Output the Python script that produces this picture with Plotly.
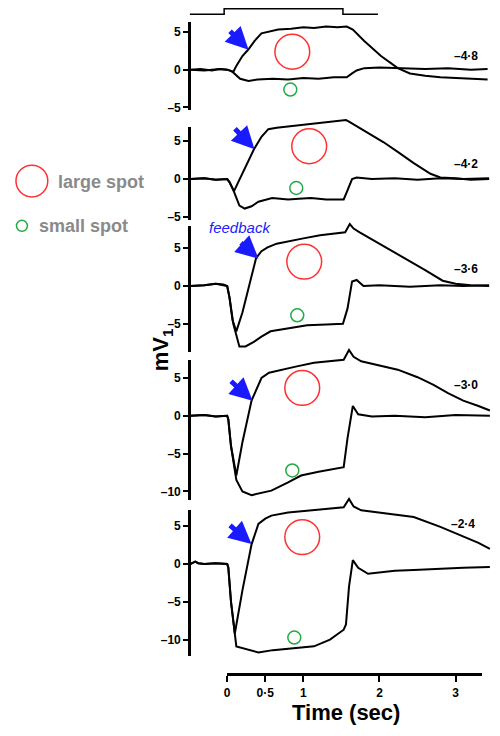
import plotly.graph_objects as go

# ---------------- data (mV vs seconds) ----------------
panel_labels = ["–4·8", "–4·2", "–3·6", "–3·0", "–2·4"]

t_large_48 = [-0.48, -0.35, -0.2, -0.1, 0.0, 0.04, 0.08, 0.12, 0.2, 0.28, 0.36, 0.45, 0.55, 0.67, 0.84, 1.0, 1.14, 1.3, 1.45, 1.57, 1.65, 1.8, 2.02, 2.24, 2.4, 2.6, 2.8, 3.0, 3.2, 3.42]
v_large_48 = [0.0, 0.1, -0.1, 0.1, 0.0, -0.2, -0.3, 0.5, 1.8, 2.7, 3.8, 4.8, 5.0, 5.3, 5.4, 5.6, 5.5, 5.7, 5.6, 5.7, 5.3, 3.8, 1.8, 0.2, -0.5, -0.8, -1.0, -1.1, -1.2, -1.3]
t_small_48 = [-0.48, -0.3, -0.1, 0.0, 0.06, 0.12, 0.17, 0.28, 0.4, 0.6, 0.8, 1.0, 1.2, 1.4, 1.57, 1.64, 1.7, 1.8, 2.0, 2.3, 2.6, 2.9, 3.2, 3.42]
v_small_48 = [0.0, -0.1, 0.1, 0.0, -0.2, -0.8, -1.2, -1.5, -1.3, -1.2, -1.3, -1.1, -1.2, -1.0, -1.0, -0.5, -0.1, 0.2, 0.3, 0.2, 0.1, 0.2, 0.0, 0.1]

t_large_42 = [-0.48, -0.3, -0.15, 0.0, 0.03, 0.09, 0.15, 0.25, 0.35, 0.45, 0.54, 0.65, 0.84, 1.0, 1.14, 1.3, 1.45, 1.56, 1.6, 1.84, 2.05, 2.24, 2.45, 2.67, 2.8, 3.0, 3.2, 3.44]
v_large_42 = [0.0, 0.1, -0.1, 0.0, -0.4, -1.6, -0.3, 1.9, 3.9, 5.6, 6.6, 6.8, 7.0, 7.2, 7.4, 7.5, 7.7, 7.8, 7.6, 6.2, 4.9, 3.6, 2.1, 0.7, 0.2, 0.1, -0.1, 0.0]
t_small_42 = [-0.48, -0.3, -0.15, 0.0, 0.03, 0.09, 0.16, 0.23, 0.32, 0.41, 0.59, 0.8, 0.94, 1.1, 1.3, 1.53, 1.58, 1.64, 1.7, 1.9, 2.2, 2.5, 2.8, 3.1, 3.44]
v_small_42 = [0.0, 0.1, -0.1, 0.0, -0.4, -1.7, -3.5, -3.9, -3.6, -3.0, -2.5, -2.7, -2.6, -2.5, -2.7, -2.7, -1.5, 0.0, 0.2, 0.0, 0.1, -0.1, 0.1, 0.0, 0.1]

t_large_36 = [-0.48, -0.3, -0.15, -0.05, 0.0, 0.03, 0.07, 0.12, 0.2, 0.3, 0.38, 0.45, 0.53, 0.65, 0.83, 1.0, 1.22, 1.4, 1.55, 1.61, 1.66, 1.74, 2.0, 2.2, 2.4, 2.6, 2.83, 3.0, 3.2, 3.44]
v_large_36 = [0.0, 0.1, 0.3, 0.2, 0.0, -1.5, -4.5, -6.0, -3.5, 0.5, 3.7, 4.6, 5.1, 5.6, 6.0, 6.3, 6.7, 6.9, 7.1, 8.2, 7.6, 7.1, 5.6, 4.5, 3.3, 2.1, 0.7, 0.3, 0.1, 0.0]
t_small_36 = [-0.48, -0.3, -0.15, 0.0, 0.03, 0.08, 0.16, 0.24, 0.35, 0.45, 0.57, 0.8, 1.05, 1.3, 1.52, 1.58, 1.64, 1.7, 1.79, 2.0, 2.4, 2.8, 3.1, 3.44]
v_small_36 = [0.0, 0.1, 0.3, 0.0, -1.5, -5.0, -8.0, -8.0, -7.4, -6.7, -6.0, -5.6, -5.2, -5.1, -5.0, -3.0, 0.6, 0.8, 0.0, 0.1, -0.1, 0.1, 0.0, 0.1]

t_large_30 = [-0.48, -0.3, -0.15, 0.0, 0.015, 0.05, 0.12, 0.2, 0.32, 0.45, 0.55, 0.67, 0.9, 1.14, 1.35, 1.53, 1.6, 1.66, 1.76, 2.0, 2.24, 2.5, 2.71, 2.9, 3.1, 3.3, 3.45]
v_large_30 = [0.0, 0.1, -0.1, 0.0, -0.5, -4.0, -7.9, -3.5, 2.0, 5.0, 5.7, 6.0, 6.5, 7.0, 7.2, 7.4, 8.7, 7.8, 7.2, 6.7, 6.1, 5.1, 4.1, 3.0, 2.0, 1.3, 0.7]
t_small_30 = [-0.48, -0.3, -0.15, 0.0, 0.015, 0.05, 0.12, 0.2, 0.32, 0.45, 0.58, 0.8, 0.97, 1.2, 1.4, 1.53, 1.58, 1.65, 1.72, 1.9, 2.2, 2.6, 3.0, 3.45]
v_small_30 = [0.0, 0.1, -0.1, 0.0, -0.5, -4.0, -8.5, -10.0, -10.5, -10.2, -9.9, -8.8, -7.9, -7.4, -7.0, -6.8, -3.0, 1.3, 0.2, -0.1, 0.0, -0.2, 0.1, 0.0]

t_large_24 = [-0.48, -0.42, -0.38, -0.3, -0.15, 0.0, 0.015, 0.05, 0.1, 0.2, 0.32, 0.41, 0.5, 0.58, 0.8, 1.14, 1.35, 1.53, 1.6, 1.66, 1.76, 2.0, 2.45, 2.8, 3.1, 3.3, 3.45]
v_large_24 = [0.0, 0.3, 0.1, 0.0, 0.1, 0.0, -0.5, -5.0, -9.2, -3.5, 2.6, 5.3, 6.0, 6.4, 6.8, 7.1, 7.3, 7.5, 8.6, 7.6, 7.1, 6.8, 6.2, 4.9, 3.6, 2.8, 2.0]
t_small_24 = [-0.48, -0.42, -0.38, -0.3, -0.15, 0.0, 0.015, 0.05, 0.12, 0.28, 0.41, 0.6, 0.9, 1.14, 1.35, 1.53, 1.56, 1.6, 1.65, 1.72, 1.85, 2.2, 2.45, 2.8, 3.1, 3.45]
v_small_24 = [0.0, 0.3, 0.1, 0.0, 0.1, 0.0, -0.5, -5.0, -10.9, -11.3, -11.7, -11.4, -11.1, -10.9, -10.0, -8.7, -8.0, -3.0, 0.5, -0.5, -1.3, -0.9, -0.8, -0.6, -0.5, -0.4]

t_stimulus = [-0.49, -0.04, -0.04, 1.52, 1.52, 1.98]
v_stimulus = [0, 0, 1, 1, 0, 0]

y_tickvals = [[5, 0, -5], [5, 0, -5], [5, 0, -5], [5, 0, -5, -10], [5, 0, -5, -10]]
x_tickvals = [0, 0.5, 1, 2, 3]
x_ticktext = ["0", "0·5", "1", "2", "3"]

# ---------------- layout geometry (pixels in the reference picture) ----------------
W, H = 500, 736
OFF = 8                      # page body margin of the html page
PX_PER_MV = 7.6
T0_PX, PX_PER_S = 225.5, 76.6
YAXIS_PX = 187
zero_px = [70, 180, 287.5, 418, 567]
axis_top_px = [22, 128, 227, 362, 513]
axis_bot_px = [111, 221, 354, 503, 660]


def fx(px):
    return min(1.0, max(0.0, (px - OFF) / W))


def fy(py):
    return min(1.0, max(0.0, 1 - (py - OFF) / H))


panels = [
    (t_large_48, v_large_48, t_small_48, v_small_48),
    (t_large_42, v_large_42, t_small_42, v_small_42),
    (t_large_36, v_large_36, t_small_36, v_small_36),
    (t_large_30, v_large_30, t_small_30, v_small_30),
    (t_large_24, v_large_24, t_small_24, v_small_24),
]

fig = go.Figure()
line = dict(color="black", width=2)
for k, (tl, vl, ts, vs) in enumerate(panels):
    ya = "y" if k == 0 else f"y{k+1}"
    fig.add_trace(go.Scatter(x=tl, y=vl, mode="lines", line=line, xaxis="x", yaxis=ya,
                             name=f"large spot {panel_labels[k]}", showlegend=False, hoverinfo="skip"))
    fig.add_trace(go.Scatter(x=ts, y=vs, mode="lines", line=line, xaxis="x", yaxis=ya,
                             name=f"small spot {panel_labels[k]}", showlegend=False, hoverinfo="skip"))
    fig.add_trace(go.Scatter(x=[], y=[], xaxis="x", yaxis=f"y{k+6}", showlegend=False, hoverinfo="skip"))

fig.add_trace(go.Scatter(x=t_stimulus, y=v_stimulus, mode="lines", line=dict(color="black", width=1.5),
                         xaxis="x", yaxis="y11", showlegend=False, hoverinfo="skip"))
fig.add_trace(go.Scatter(x=[], y=[], xaxis="x2", yaxis="y", showlegend=False, hoverinfo="skip"))

FAM = "Liberation Sans, Arial, sans-serif"
bold = dict(family=FAM, size=12, color="black", weight="bold")

layout = dict(
    width=W, height=H, margin=dict(l=0, r=0, t=0, b=0),
    paper_bgcolor="white", plot_bgcolor="rgba(0,0,0,0)",
    showlegend=False,
    xaxis=dict(domain=[0, 1], range=[(OFF - T0_PX) / PX_PER_S, (W + OFF - T0_PX) / PX_PER_S], visible=False),
    xaxis2=dict(domain=[fx(225), fx(482)], range=[(225 - T0_PX) / PX_PER_S, (482 - T0_PX) / PX_PER_S],
                anchor="free", position=fy(678), showline=True, linewidth=2.5, linecolor="black",
                ticks="outside", ticklen=6, tickwidth=2, tickcolor="black",
                tickvals=x_tickvals, ticktext=x_ticktext, tickfont=bold, showgrid=False, zeroline=False),
    yaxis11=dict(domain=[fy(15.5), 1.0], range=[-0.25, 1.15], visible=False, anchor="x"),
)
for k in range(5):
    z = zero_px[k]
    key = "yaxis" if k == 0 else f"yaxis{k+1}"
    d = dict(domain=[0, 1], range=[(z - (H + OFF)) / PX_PER_MV, (z - OFF) / PX_PER_MV], visible=False)
    if k > 0:
        d["overlaying"] = "y"
    layout[key] = d
    top, bot = axis_top_px[k], axis_bot_px[k]
    layout[f"yaxis{k+6}"] = dict(
        domain=[fy(bot), fy(top)], range=[(z - bot) / PX_PER_MV, (z - top) / PX_PER_MV],
        anchor="free", position=fx(YAXIS_PX), showline=True, linewidth=2.5, linecolor="black",
        ticks="outside", ticklen=5, tickwidth=2, tickcolor="black",
        tickvals=y_tickvals[k], ticktext=[("–" + str(-v)) if v < 0 else str(v) for v in y_tickvals[k]],
        tickfont=bold, showgrid=False, zeroline=False)
fig.update_layout(**layout)

# ---------------- decorations ----------------
shapes = []


def circle(cx, cy, r, color):
    shapes.append(dict(type="circle", xref="paper", yref="paper",
                       x0=fx(cx - r), x1=fx(cx + r), y0=fy(cy + r), y1=fy(cy - r),
                       line=dict(color=color, width=1.5)))


RED, GREEN = "#ff3030", "#22aa44"
red_centers = [(291, 52), (308, 147), (303, 263), (301, 390), (301, 540)]
green_centers = [(289, 90), (295, 189), (296, 317), (291, 473), (293, 641)]
for c in red_centers:
    circle(c[0], c[1], 17.5, RED)
for c in green_centers:
    circle(c[0], c[1], 6.5, GREEN)
circle(29, 182, 16, RED)
circle(19, 227, 5.5, GREEN)

# cut-off scale bar at the right edge
for x0, y0, x1, y1 in [(496, 47, 496, 61), (496, 66, 496, 77), (496, 77, 501, 77)]:
    shapes.append(dict(type="line", xref="paper", yref="paper", x0=fx(x0), x1=fx(x1), y0=fy(y0), y1=fy(y1),
                       line=dict(color="black", width=2)))

annotations = []


def text(s, x, y, font, xanchor="center", **kw):
    annotations.append(dict(text=s, x=fx(x), y=fy(y), xref="paper", yref="paper", showarrow=False,
                            xanchor=xanchor, yanchor="middle", font=font, **kw))


label_pos = [(466, 56), (466, 165), (466, 270), (466, 387), (463, 527)]
for lab, (x, y) in zip(panel_labels, label_pos):
    text(lab, x, y, dict(family=FAM, size=12, color="black", weight="bold"))

arrows = [((227, 30), (247, 50)), ((232, 128), (253, 150)), ((238, 243), (257, 260)),
          ((228, 382), (251, 403)), ((227, 527), (250, 547))]
for (tx, ty), (hx, hy) in arrows:
    annotations.append(dict(text="", x=fx(hx), y=fy(hy), xref="paper", yref="paper", showarrow=True,
                            ax=tx - hx, ay=ty - hy, arrowhead=2, arrowsize=0.9, arrowwidth=5,
                            arrowcolor="#1a1aff"))

text("<i>feedback</i>", 238, 229, dict(family=FAM, size=15, color="#2020ff"))
text("mV<sub>1</sub>", 160, 352, dict(family=FAM, size=22, color="black", weight="bold"), textangle=-90)
text("Time (sec)", 345, 716, dict(family=FAM, size=22, color="black", weight="bold"))
grey = dict(family=FAM, size=18, color="#8a8a8a", weight="bold")
text("large spot", 53, 183, grey, xanchor="left")
text("small spot", 34, 227, grey, xanchor="left")

fig.update_layout(shapes=shapes, annotations=annotations)
fig.write_html("out.html")
